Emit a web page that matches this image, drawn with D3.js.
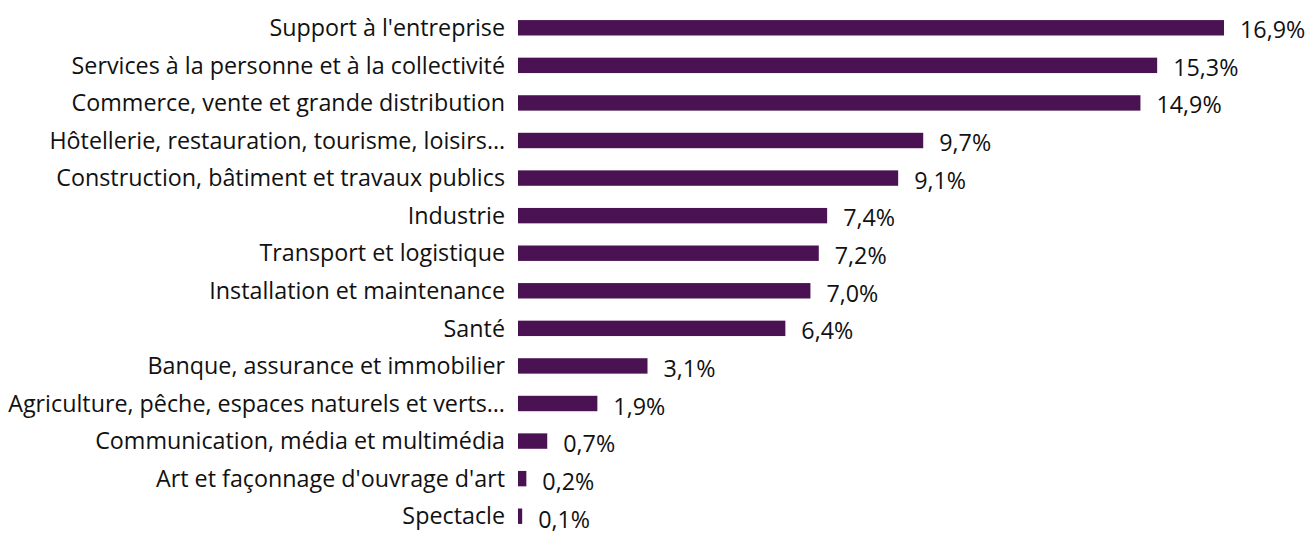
<!DOCTYPE html>
<html><head><meta charset="utf-8">
<script src="https://cdn.jsdelivr.net/npm/d3@7"></script>
<style>body{margin:0;background:#fff;}svg{display:block;}</style>
</head><body>
<script>
const categories = ["Support à l'entreprise","Services à la personne et à la collectivité","Commerce, vente et grande distribution","Hôtellerie, restauration, tourisme, loisirs…","Construction, bâtiment et travaux publics","Industrie","Transport et logistique","Installation et maintenance","Santé","Banque, assurance et immobilier","Agriculture, pêche, espaces naturels et verts…","Communication, média et multimédia","Art et façonnage d'ouvrage d'art","Spectacle"];
const values = [16.9,15.3,14.9,9.7,9.1,7.4,7.2,7.0,6.4,3.1,1.9,0.7,0.2,0.1];

const W = 1315, H = 534;
const svg = d3.select("body").append("svg").attr("width", W).attr("height", H);
const x = d3.scaleLinear().domain([0, 16.9]).range([518, 1224]);
const y = d3.scaleBand().domain(categories).range([9, 535]).paddingInner(0.59).paddingOuter(0.295);
const fmt = v => d3.format(".1f")(v).replace(".", ",") + "%";
const font = "'Open Sans', sans-serif";

const probe = svg.append("text").attr("font-family", font).attr("font-size", 20)
  .text("Agriculture, pêche, espaces naturels et verts…");
const fs = 20 * 497 / probe.node().getComputedTextLength();
probe.remove();

svg.selectAll("rect.bar").data(values).join("rect")
  .attr("x", x(0)).attr("y", (d,i) => y(categories[i]))
  .attr("width", d => x(d) - x(0)).attr("height", y.bandwidth())
  .attr("fill", "#4a1252");

svg.selectAll("text.cat").data(categories).join("text")
  .attr("x", 505).attr("y", d => y(d) + y.bandwidth()/2)
  .attr("dy", "0.35em").attr("text-anchor", "end")
  .attr("font-family", font).attr("font-size", fs).attr("fill", "#111")
  .text(d => d);

svg.selectAll("text.val").data(values).join("text")
  .attr("x", d => x(d) + 16).attr("y", (d,i) => y(categories[i]) + y.bandwidth()/2 + 2 + i * 0.1)
  .attr("dy", "0.35em").attr("font-family", font).attr("font-size", fs).attr("fill", "#111")
  .text(fmt);
</script>
</body></html>
